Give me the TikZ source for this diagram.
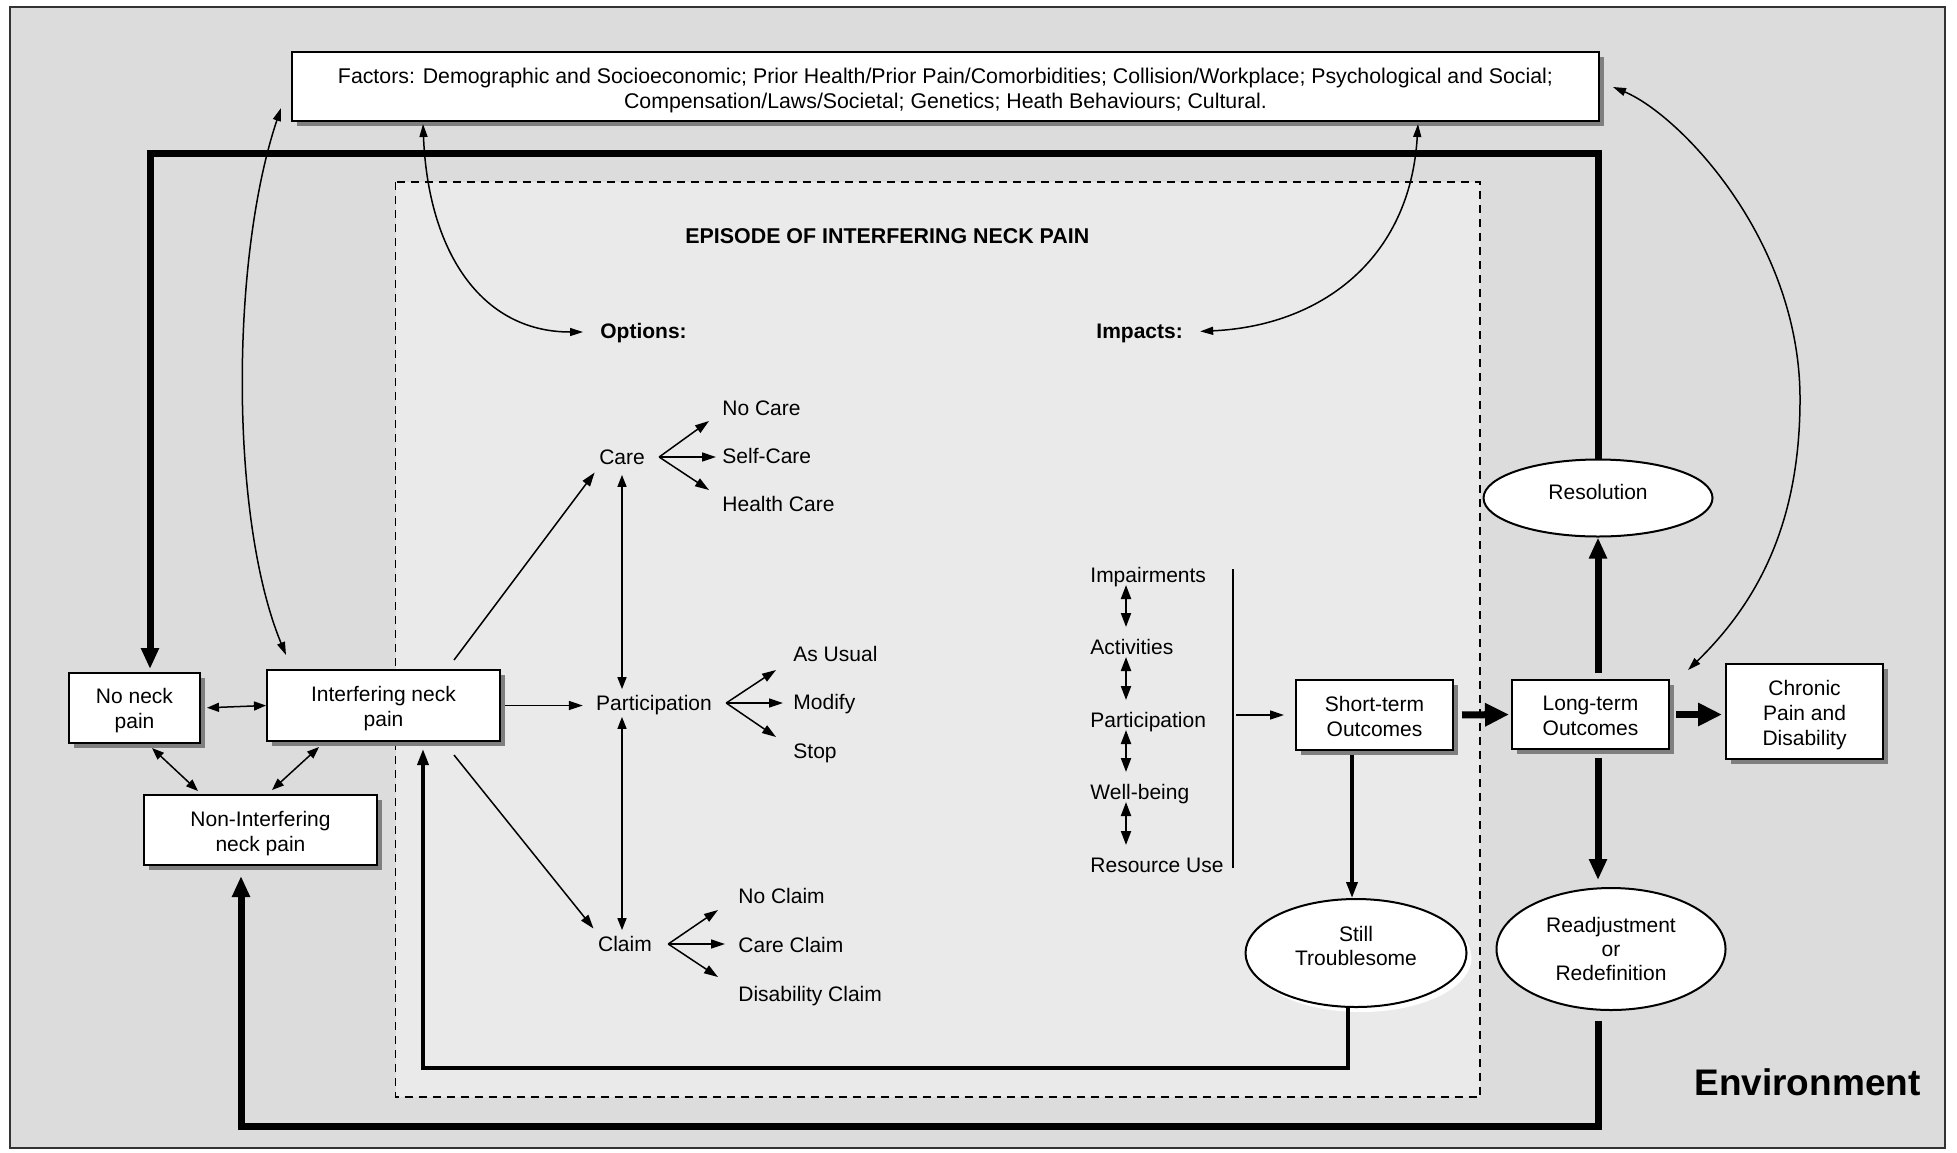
\documentclass[tikz,border=0pt]{standalone}
\usepackage{fontspec}
\setmainfont{Liberation Sans}
\usetikzlibrary{arrows.meta,shapes.geometric,shadows,calc}
\definecolor{bgout}{HTML}{DCDCDC}
\definecolor{bgin}{HTML}{EAEAEA}
\definecolor{shadowgray}{HTML}{7F7F7F}
\definecolor{framegray}{HTML}{333333}
\tikzset{
  fsz/.style={font=\fontsize{10.5}{12.5}\selectfont},
  box/.style={draw, line width=1pt, fill=white, inner sep=0pt,
    drop shadow={shadow xshift=2.5pt, shadow yshift=-2.5pt, fill=shadowgray, opacity=1}},
  oval/.style={ellipse, draw, line width=1pt, fill=white, inner sep=0pt},
  boxtxt/.style={align=center, inner sep=0pt, fsz},
  ovaltxt/.style={align=center, inner sep=0pt, font=\fontsize{10.5}{12}\selectfont},
  lbl/.style={inner sep=1.5pt, text height=7.9pt, text depth=2.6pt, fsz,
    execute at begin node={\lower1.25pt\hbox\bgroup}, execute at end node={\egroup}},
  bld/.style={inner sep=1.5pt, text height=7.9pt, text depth=2.6pt,
    font=\bfseries\fontsize{10.5}{12.5}\selectfont,
    execute at begin node={\lower0.75pt\hbox\bgroup}, execute at end node={\egroup}},
  lnA/.style={line width=0.75pt, -{Triangle[length=7pt,width=4.5pt]}},
  lnAA/.style={line width=0.75pt, {Triangle[length=6pt,width=4.5pt]}-{Triangle[length=6pt,width=4.5pt]}},
  crvAA/.style={line width=0.75pt, {Triangle[length=6.5pt,width=4pt]}-{Triangle[length=6.5pt,width=4pt]}},
  impAA/.style={line width=1pt, {Triangle[length=7pt,width=5pt]}-{Triangle[length=7pt,width=5pt]}},
  medA/.style={line width=1.75pt, -{Triangle[length=8pt,width=5.5pt]}},
  frameA/.style={line width=3.5pt, line join=miter, -{Triangle[length=10.5pt,width=8.5pt]}},
  bigH/.style={line width=3.5pt, -{Triangle[length=12pt,width=11pt]}},
}
\begin{document}
\begin{tikzpicture}[x=0.5pt,y=-0.5pt]
\fill[white] (0,0) rectangle (1957,1152);
\useasboundingbox (0,0) rectangle (1957,1152);
\draw[fill=bgout, draw=framegray, line width=1pt] (10,7) rectangle (1945,1148);
\draw[fill=bgin, line width=0.6pt, dash pattern=on 4pt off 3pt] (395.5,182) rectangle (1480,1097);

% boxes
\node[box, minimum width=653.5pt, minimum height=34.5pt] (factors) at (945.5,86.5) {};
\node[boxtxt, font=\fontsize{10.65}{12.5}\selectfont] (factorsT) at ($(factors)+(0,4)$)
  {Factors: Demographic and Socioeconomic; Prior Health/Prior Pain/Comorbidities; Collision/Workplace; Psychological and Social;\\Compensation/Laws/Societal; Genetics; Heath Behaviours; Cultural.};
\node[box, minimum width=65.5pt, minimum height=35pt] (noneck) at (134.5,708) {};
\node[boxtxt] (noneckT) at ($(noneck)+(0,3)$) {No neck\\pain};
\node[box, minimum width=116.5pt, minimum height=35.5pt] (interf) at (383.5,705.5) {};
\node[boxtxt] (interfT) at ($(interf)+(0,3)$) {Interfering neck\\pain};
\node[box, minimum width=116.5pt, minimum height=35pt] (nonint) at (260.5,830) {};
\node[boxtxt] (nonintT) at ($(nonint)+(0,3.5)$) {Non-Interfering\\neck pain};
\node[box, minimum width=78.5pt, minimum height=35pt] (short) at (1374.5,715) {};
\node[boxtxt] (shortT) at ($(short)+(0,1)$) {Short-term\\Outcomes};
\node[box, minimum width=78.5pt, minimum height=34.5pt] (long) at (1590.5,714.5) {};
\node[boxtxt] (longT) at ($(long)+(0,1.5)$) {Long-term\\Outcomes};
\node[box, minimum width=78.5pt, minimum height=47.5pt] (chronic) at (1804.5,711.5) {};
\node[boxtxt] (chronicT) at ($(chronic)+(0,4)$) {Chronic\\Pain and\\Disability};
\node[oval, minimum width=114.5pt, minimum height=38.5pt] (res) at (1598,498) {};
\node[ovaltxt] (resT) at ($(res)+(0,-6)$) {Resolution};
\node[oval, minimum width=110.5pt, minimum height=54pt,
  drop shadow={shadow xshift=2.5pt, shadow yshift=-2.5pt, fill=white, opacity=1}] (still) at (1356,953) {};
\node[ovaltxt] (stillT) at ($(still)+(0,-7)$) {Still\\Troublesome};
\node[oval, minimum width=114.5pt, minimum height=61pt] (readj) at (1611,949) {};
\node[ovaltxt] (readjT) at (readj) {Readjustment\\or\\Redefinition};

% text labels
\node[bld, anchor=west, font=\bfseries\fontsize{10.7}{12.5}\selectfont] (episode) at (682,237) {EPISODE OF INTERFERING NECK PAIN};
\node[bld, anchor=west] (options) at (597,332) {Options:};
\node[bld, anchor=west] (impacts) at (1093,332) {Impacts:};
\node[lbl] (care) at (622,457) {Care};
\node[lbl] (part) at (654,703) {Participation};
\node[lbl] (claim) at (625,944) {Claim};
\node[lbl, anchor=west] (nocare) at (719,408) {No Care};
\node[lbl, anchor=west] (selfcare) at (719,456) {Self-Care};
\node[lbl, anchor=west] (healthcare) at (719,504) {Health Care};
\node[lbl, anchor=west] (asusual) at (790,654) {As Usual};
\node[lbl, anchor=west] (modify) at (790,702) {Modify};
\node[lbl, anchor=west] (stop) at (790,751) {Stop};
\node[lbl, anchor=west] (noclaim) at (735,896) {No Claim};
\node[lbl, anchor=west] (careclaim) at (735,945) {Care Claim};
\node[lbl, anchor=west] (disclaim) at (735,994) {Disability Claim};
\node[lbl, anchor=west] (imp) at (1087,575) {Impairments};
\node[lbl, anchor=west] (act) at (1087,647) {Activities};
\node[lbl, anchor=west] (ipart) at (1087,720) {Participation};
\node[lbl, anchor=west] (well) at (1087,792) {Well-being};
\node[lbl, anchor=west] (ruse) at (1087,865) {Resource Use};
\node[anchor=west, inner sep=0pt, font=\bfseries\fontsize{18.5}{20}\selectfont] (env) at (1694,1082) {Environment};

% thick frame (top) into No neck pain
\coordinate (ftr) at (res.north |- 0,153);
\coordinate (ftl) at (150,153);
\coordinate (nnin) at ($(noneck.north)+(15.5,-3)$);
\draw[frameA] (res.north) -- (ftr) -- (ftl) -- (nnin);

% thick frame (bottom) into Non-Interfering
\coordinate (rbs) at ($(readj.south)+(-13,10)$);
\coordinate (rbb) at (rbs |- 0,1126);
\coordinate (niin) at ($(nonint.south)+(-19.5,10)$);
\coordinate (nib) at (niin |- 0,1126);
\draw[frameA] (rbs) -- (rbb) -- (nib) -- (niin);

% left cluster
\draw[lnAA, shorten <=3pt] (noneck.east) -- (interf.west);
\draw[lnAA] ($(noneck.south)+(17.5,4)$) -- ($(nonint.north)+(-62.5,-3)$);
\draw[lnAA] ($(interf.south)+(-64.5,5)$) -- ($(nonint.north)+(11.5,-4)$);

% interfering to options
\draw[lnA, shorten <=2pt, shorten >=5pt] (interf.east) -- (interf.east -| part.west);
\draw[lnA, shorten >=1pt] ($(interf.north)+(70.5,-9)$) -- (care.south west);
\draw[lnA, shorten >=1pt] ($(interf.south)+(70.5,13)$) -- (claim.north west);

% vertical options
\draw[lnAA, shorten <=2pt] (care.south) -- (care.south |- part.north);
\draw[lnAA] (care.south |- part.south) -- (care.south |- claim.north);

% fans
\coordinate (cf) at ($(care.east)+(11,0)$);
\draw[lnA] (cf) -- ($(nocare.west)+(-10,13)$);
\draw[lnA, shorten >=1.5pt] (cf) -- (cf -| selfcare.west);
\draw[lnA] (cf) -- ($(healthcare.west)+(-10,-14)$);
\coordinate (pf) at ($(part.east)+(11,0)$);
\draw[lnA] (pf) -- ($(asusual.west)+(-14,16)$);
\draw[lnA, shorten >=3.5pt] (pf) -- (pf -| modify.west);
\draw[lnA] (pf) -- ($(stop.west)+(-14,-14)$);
\coordinate (lf) at ($(claim.east)+(13,0)$);
\draw[lnA] (lf) -- ($(noclaim.west)+(-17,14)$);
\draw[lnA, shorten >=5pt] (lf) -- (lf -| careclaim.west);
\draw[lnA] (lf) -- ($(disclaim.west)+(-17,-17)$);

% impacts column
\draw[impAA] ($(imp.west)+(39,10)$) -- ($(act.west)+(39,-20)$);
\draw[impAA] ($(act.west)+(39,10)$) -- ($(ipart.west)+(39,-20)$);
\draw[impAA] ($(ipart.west)+(39,10)$) -- ($(well.west)+(39,-20)$);
\draw[impAA] ($(well.west)+(39,10)$) -- ($(ruse.west)+(39,-20)$);
\coordinate (bart) at ($(imp.west)+(146,-6)$);
\coordinate (barb) at ($(ruse.west)+(146,3)$);
\draw[line width=0.75pt] (bart) -- (barb);
\draw[lnA, shorten <=1.5pt, shorten >=5.5pt] (bart |- short.west) -- (short.west);

% outcomes
\draw[bigH, shorten <=4pt, shorten >=1pt] (short.east) -- (long.west);
\draw[bigH, shorten <=3pt, shorten >=1.5pt] (long.east) -- (long.east -| chronic.west);
\draw[frameA, shorten <=3pt] (long.north -| res.south) -- (res.south);
\draw[frameA, shorten <=4pt, shorten >=3.5pt] (long.south -| res.south) -- (readj.north -| res.south);
\coordinate (stn) at ($(still.north)+(-4,0)$);
\draw[medA, shorten <=2pt] (short.south -| stn) -- (stn);

% feedback from Still Troublesome
\coordinate (sts) at ($(still.south)+(-8,0)$);
\coordinate (stb) at (sts |- 0,1068);
\coordinate (ifb) at ($(interf.south)+(39.5,7)$);
\coordinate (ifbb) at (ifb |- 0,1068);
\draw[medA, line join=miter] (sts) -- (stb) -- (ifbb) -- (ifb);

% curves with factors
\draw[crvAA] ($(factors.south west)+(-10,-14)$) .. controls (230,260) and (230,520) .. ($(interf.north west)+(20,-14)$);
\draw[crvAA, shorten >=7pt] ($(factors.south west)+(132,2)$) .. controls (428,250) and (480,332) .. (options.west);
\draw[crvAA, shorten >=7pt] ($(factors.south west)+(1127,2)$) .. controls (1410,260) and (1320,326) .. (impacts.east);
\draw[line width=0.75pt, {Triangle[length=6.5pt,width=4pt]}-] ($(factors.north east)+(13,36)$) .. controls (1680,115) and (1800,240) .. (1800,399);
\draw[line width=0.75pt, -{Triangle[length=6.5pt,width=4pt]}] (1800,399) .. controls (1800,520) and (1760,600) .. ($(long.north east)+(18,-9)$);
\end{tikzpicture}
\end{document}
